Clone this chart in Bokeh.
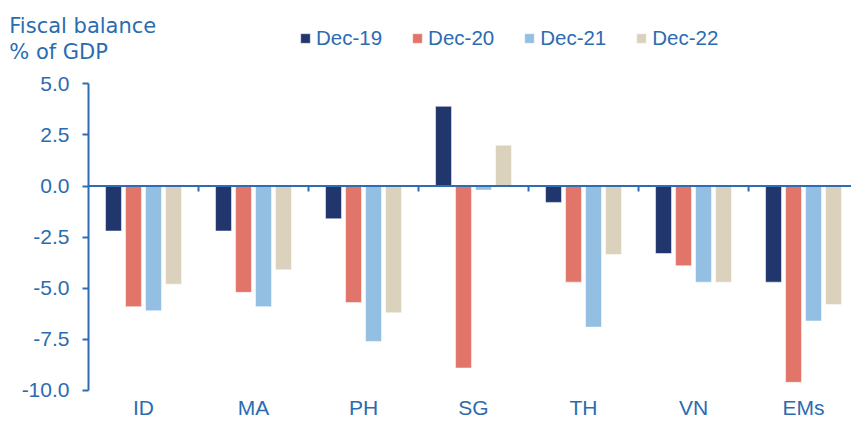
from bokeh.plotting import figure
from bokeh.models import (Range1d, FixedTicker, NumeralTickFormatter, Label,
                          Legend, LegendItem)
from bokeh.embed import file_html
from bokeh.resources import INLINE

categories = ["ID", "MA", "PH", "SG", "TH", "VN", "EMs"]
series_names = ["Dec-19", "Dec-20", "Dec-21", "Dec-22"]
dec19 = [-2.2, -2.2, -1.6, 3.9, -0.8, -3.3, -4.7]
dec20 = [-5.9, -5.2, -5.7, -8.9, -4.7, -3.9, -9.6]
dec21 = [-6.1, -5.9, -7.6, -0.2, -6.9, -4.7, -6.6]
dec22 = [-4.8, -4.1, -6.2, 2.0, -3.35, -4.7, -5.8]
y_ticks = [5.0, 2.5, 0.0, -2.5, -5.0, -7.5, -10.0]

colors = ["#22366E", "#E2756A", "#93BFE3", "#DBD2BD"]
TXT = "#2B6CB0"
AX = "#2E6DB4"
FONT = "Liberation Sans"

n = len(categories)
p = figure(width=851, height=421, output_backend="svg", toolbar_location=None,
           x_range=Range1d(-0.8, 6.936), y_range=Range1d(-10.49, 9.075),
           min_border_left=0, min_border_right=0, min_border_top=0,
           min_border_bottom=21)
p.outline_line_color = None
p.xgrid.visible = False
p.ygrid.visible = False
p.background_fill_color = "white"
p.border_fill_color = "white"

offsets = [-0.2727, -0.0909, 0.0909, 0.2727]
all_series = [dec19, dec20, dec21, dec22]
renderers = []
for vals, off, col in zip(all_series, offsets, colors):
    xs = [i + 0.5 + off for i in range(n)]
    r = p.vbar(x=xs, top=vals, bottom=0, width=0.145, fill_color=col,
               line_color="white", line_alpha=0.5, line_width=1)
    renderers.append(r)

# zero line and group separators
p.segment(x0=[0], y0=[0], x1=[n], y1=[0], line_color=AX, line_width=2)
bounds = [i for i in range(1, n)]
p.segment(x0=bounds, y0=[0] * len(bounds), x1=bounds, y1=[-0.27] * len(bounds),
          line_color=AX, line_width=2)

# x axis (labels only)
xa = p.xaxis[0]
xa.ticker = FixedTicker(ticks=[i + 0.5 for i in range(n)])
xa.major_label_overrides = {i + 0.5: c for i, c in enumerate(categories)}
xa.axis_line_color = None
xa.major_tick_line_color = None
xa.minor_tick_line_color = None
xa.major_tick_out = 0
xa.major_tick_in = 0
xa.major_label_standoff = -5
xa.major_label_text_font = FONT
xa.major_label_text_font_size = "21px"
xa.major_label_text_color = TXT

ya = p.yaxis[0]
ya.fixed_location = 0
ya.ticker = FixedTicker(ticks=y_ticks)
ya.bounds = (min(y_ticks), max(y_ticks))
ya.formatter = NumeralTickFormatter(format="0.0")
ya.axis_line_color = AX
ya.axis_line_width = 2
ya.major_tick_line_color = AX
ya.major_tick_line_width = 2
ya.major_tick_out = 6
ya.major_tick_in = 0
ya.minor_tick_line_color = None
ya.major_label_standoff = 13
ya.major_label_text_font = FONT
ya.major_label_text_font_size = "21px"
ya.major_label_text_color = TXT

for txt, yy in [("Fiscal balance", 7.81), ("% of GDP", 6.54)]:
    p.add_layout(Label(x=-0.72, y=yy, text=txt,
                       text_font="DejaVu Sans", text_font_size="21px",
                       text_color=TXT, text_baseline="alphabetic"))

legend = Legend(items=[LegendItem(label=s, renderers=[r]) for s, r in zip(series_names, renderers)],
                location=(299, 350), orientation="horizontal",
                glyph_width=12, glyph_height=12, label_standoff=5, spacing=29,
                padding=0, margin=0, border_line_color=None, background_fill_alpha=0,
                label_text_font=FONT, label_text_font_size="20.5px",
                label_text_color=TXT)
p.add_layout(legend)

open("out.html", "w").write(file_html(p, INLINE))
